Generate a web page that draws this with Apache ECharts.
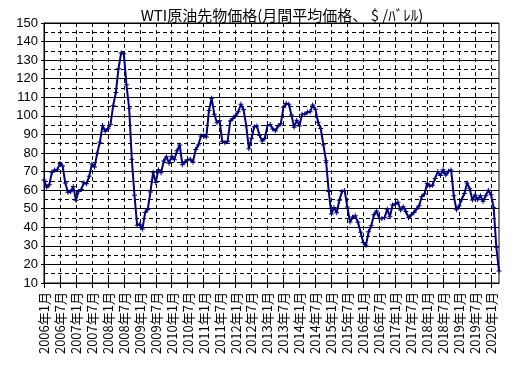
<!DOCTYPE html>
<html>
<head>
<meta charset="utf-8">
<script src="https://cdn.jsdelivr.net/npm/echarts@6/dist/echarts.min.js"></script>
<style>html,body{margin:0;padding:0;background:#fff;}#c{width:523px;height:379px;}</style>
</head>
<body>
<div id="c"></div>
<script>
var titleText = 'WTI原油先物価格(月間平均価格、 $ /ﾊﾞﾚﾙ)';
var years = [2006,2007,2008,2009,2010,2011,2012,2013,2014,2015,2016,2017,2018,2019,2020];
var v2006 = [65.5,61.6,62.9,69.7,70.9,71.0,74.4,73.0,63.8,58.9,59.1,62.0];
var v2007 = [54.6,59.3,60.4,64.0,63.5,67.5,74.1,72.4,79.9,85.8,94.8,91.7];
var v2008 = [93.0,95.4,105.5,112.6,125.4,133.9,133.4,116.7,104.1,76.6,57.3,41.1];
var v2009 = [41.7,39.1,47.9,49.6,59.0,69.6,64.1,71.0,69.4,75.7,78.0,74.5];
var v2010 = [78.3,76.4,81.2,84.3,73.7,75.3,76.3,76.6,75.2,81.9,84.3,89.2];
var v2011 = [89.2,88.6,102.9,109.5,100.9,96.3,97.3,86.3,85.5,86.3,97.2,98.6];
var v2012 = [100.3,102.2,106.2,103.3,94.7,82.3,87.9,94.1,94.5,89.5,86.5,87.9];
var v2013 = [94.8,95.3,92.9,92.0,94.5,95.8,104.6,106.6,106.3,100.5,93.9,97.6];
var v2014 = [94.6,100.8,100.8,102.1,102.2,105.8,103.6,96.5,93.2,84.4,75.8,59.3];
var v2015 = [47.2,50.6,47.8,54.5,59.3,59.8,50.9,42.9,45.5,46.2,42.7,37.3];
var v2016 = [31.8,30.3,37.6,40.8,46.7,48.8,44.7,44.7,45.2,49.8,45.7,52.0];
var v2017 = [52.5,53.5,49.3,51.1,48.5,45.2,46.6,48.0,49.8,51.6,56.6,57.9];
var v2018 = [63.7,62.2,62.7,66.3,70.0,67.9,71.0,68.1,70.2,70.8,57.0,49.5];
var v2019 = [51.4,55.0,58.2,63.9,60.8,54.7,57.4,54.8,57.0,54.0,57.0,59.9];
var v2020 = [57.5,50.5,29.2,16.5];
var yTicks = [10,20,30,40,50,60,70,80,90,100,110,120,130,140,150];

var values = [].concat(v2006,v2007,v2008,v2009,v2010,v2011,v2012,v2013,v2014,v2015,v2016,v2017,v2018,v2019,v2020);
var categories = [];
years.forEach(function(y){
  for (var m = 1; m <= 12; m++) {
    if (categories.length < values.length) categories.push(y + '年' + m + '月');
  }
});

var plusPath = 'path://M2,0H3V2H5V3H3V5H2V3H0V2H2Z';
var chart = echarts.init(document.getElementById('c'), null, {renderer:'canvas'});
chart.setOption({
  animation: false,
  backgroundColor: '#fff',
  title: {
    text: titleText, left: 277, top: 3, textAlign: 'center',
    textStyle: {fontFamily: 'Noto Sans CJK JP', fontSize: 15, fontWeight: 'normal', color: '#000'}
  },
  grid: {left: 44, right: 24, top: 23, bottom: 96, show: true, borderColor: '#000', borderWidth: 1, backgroundColor: 'transparent'},
  xAxis: [{
    type: 'category', data: categories, boundaryGap: false,
    axisLine: {lineStyle: {color: '#000', width: 1}},
    axisTick: {show: true, interval: 5, length: 5, lineStyle: {color: '#000'}},
    axisLabel: {interval: 5, rotate: 90, margin: 9, fontFamily: 'Noto Sans CJK JP', fontSize: 13, color: '#000'},
    splitLine: {show: true, interval: 5, lineStyle: {color: '#000', type: [4,3], width: 1}}
  },{
    type: 'category', data: categories, boundaryGap: false, position: 'bottom',
    axisLine: {show: false},
    axisTick: {show: true, inside: true, interval: 5, length: 5, lineStyle: {color: '#000'}},
    axisLabel: {show: false}, splitLine: {show: false}
  }],
  yAxis: {
    type: 'value', min: 10, max: 150, interval: 10,
    axisLine: {show: true, lineStyle: {color: '#000'}},
    axisTick: {show: true, length: 3, lineStyle: {color: '#000'}},
    axisLabel: {margin: 6, fontFamily: 'Liberation Sans', fontSize: 13, color: '#000',
      formatter: function(v){ return yTicks.indexOf(v) >= 0 ? String(v) : ''; }},
    splitLine: {show: true, lineStyle: {color: '#000', width: 1}},
    minorTick: {show: false, splitNumber: 2},
    minorSplitLine: {show: true, lineStyle: {color: '#000', type: [4,3], width: 1}}
  },
  series: [{
    type: 'line', data: values, xAxisIndex: 0,
    symbol: plusPath, symbolSize: 5, showSymbol: true, showAllSymbol: true,
    lineStyle: {color: '#000080', width: 2},
    itemStyle: {color: '#000080'},
    z: 5
  }]
});
</script>
</body>
</html>
